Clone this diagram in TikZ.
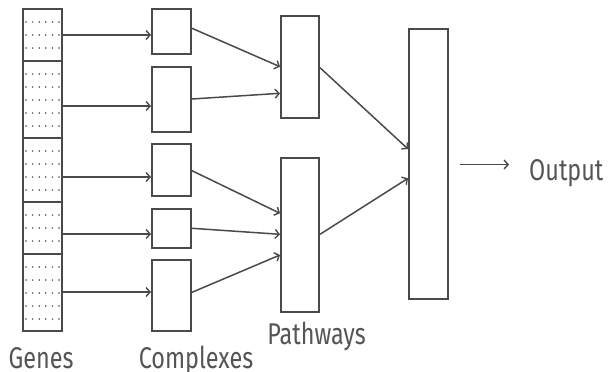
\documentclass[tikz,border=0pt]{standalone}
\usepackage{fontspec}
\setmainfont{Fira Sans}[FakeStretch=0.78]
\usetikzlibrary{arrows.meta}
\definecolor{lc}{HTML}{4A4A4A}
\definecolor{tc}{HTML}{555555}
\begin{document}
\begin{tikzpicture}[x=1pt,y=-1pt,
  box/.style={draw=lc, line width=2pt, inner sep=0pt, minimum width=39pt},
  arr/.style={draw=lc, line width=1.5pt, -{Straight Barb[length=4pt,width=9pt,line width=1.4pt]}},
  lbl/.style={text=tc, inner sep=0pt, font=\fontsize{30}{30}\selectfont},
  dot/.style={fill=lc, draw=none}]
\useasboundingbox (0,0) rectangle (608,372);
% genes column
\node[box, minimum height=52pt] (g1) at (42.5,35) {};
\node[box, minimum height=77pt] (g2) at (42.5,99.5) {};
\node[box, minimum height=64pt] (g3) at (42.5,170) {};
\node[box, minimum height=52pt] (g4) at (42.5,228) {};
\node[box, minimum height=77pt] (g5) at (42.5,292.5) {};
% dots
\foreach \t/\n in {9/3,61/5,138/4,202/3,254/5}{
  \foreach \k in {1,...,\n}{
    \foreach \i in {0,...,5}{
      \fill[dot] ({26+6.6*\i},{\t+13*\k}) circle (0.85pt);
    }
  }
}
% complexes
\node[box, minimum height=45pt] (c1) at (171.5,31.5) {};
\node[box, minimum height=65pt] (c2) at (171.5,99.5) {};
\node[box, minimum height=52pt] (c3) at (171.5,170) {};
\node[box, minimum height=39pt] (c4) at (171.5,228.5) {};
\node[box, minimum height=71pt] (c5) at (171.5,295.5) {};
% pathways
\node[box, minimum width=38pt, minimum height=102.6pt] (p1) at (300,67) {};
\node[box, minimum width=38pt, minimum height=154pt] (p2) at (300,234.7) {};
% output box
\node[box, minimum height=270.3pt] (o) at (428.5,163.9) {};
% genes -> complexes
\draw[arr] (g1.east |- 0,35) -- (c1.west |- 0,35);
\draw[arr] (g2.east |- 0,106) -- (c2.west |- 0,106);
\draw[arr] (g3.east |- 0,177) -- (c3.west |- 0,177);
\draw[arr] (g4.east |- 0,234) -- (c4.west |- 0,234);
\draw[arr] (g5.east |- 0,292) -- (c5.west |- 0,292);
% complexes -> pathways
\draw[arr] (c1.east |- 0,28.3) -- (p1.west |- 0,66.7);
\draw[arr] (c2.east |- 0,99) -- (p1.west |- 0,93.3);
\draw[arr] (c3.east |- 0,170.7) -- (p2.west |- 0,213.3);
\draw[arr] (c4.east |- 0,228.3) -- (p2.west |- 0,234.3);
\draw[arr] (c5.east |- 0,292.3) -- (p2.west |- 0,255);
% pathways -> output
\draw[arr] (p1.east |- 0,67.7) -- (o.west |- 0,149);
\draw[arr] (p2.east |- 0,234.3) -- (o.west |- 0,178.3);
% output arrow and labels
\coordinate (oa) at (460,164.5);
\coordinate (ob) at (509,164.5);
\draw[arr] (oa) -- (ob);
\node[lbl, anchor=base west] (out) at (529,180) {Output};
\node[lbl, anchor=base] (lg) at (41,368) {Genes};
\node[lbl, anchor=base] (lc) at (196,368) {Complexes};
\node[lbl, anchor=base] (lp) at (316.5,344.2) {Pathways};
\end{tikzpicture}
\end{document}
